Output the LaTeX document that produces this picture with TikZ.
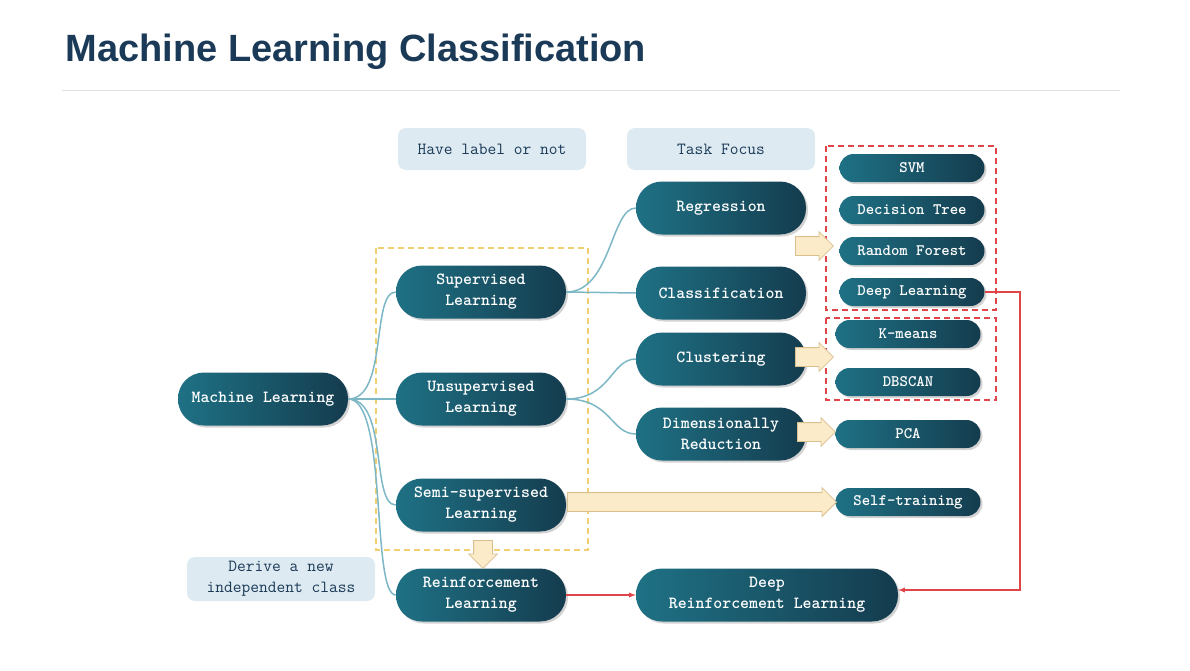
\documentclass[tikz,border=0pt]{standalone}
\usepackage{fontspec}
\newfontfamily\titlefont{Liberation Sans}
\usetikzlibrary{shapes.arrows,shadows}
\definecolor{navy}{HTML}{1B3A57}
\definecolor{tealA}{HTML}{1F7185}
\definecolor{tealB}{HTML}{143C4E}
\definecolor{lbl}{HTML}{DDEAF1}
\definecolor{conn}{HTML}{7DB7C6}
\definecolor{fat}{HTML}{FBEBC8}
\definecolor{fatb}{HTML}{D9C08F}
\definecolor{dred}{HTML}{E0454A}
\definecolor{dyel}{HTML}{F2CF72}
\begin{document}
\begin{tikzpicture}[x=1pt,y=-1pt,
  base/.style={rounded corners=#1, left color=tealA, right color=tealB, text=white,
     font=\ttfamily\bfseries, align=center, inner sep=0pt, drop shadow={opacity=0.35,shadow xshift=2pt,shadow yshift=-2pt}},
  big/.style={base=26pt, minimum width=170pt, minimum height=53pt, font=\ttfamily\bfseries\fontsize{17}{21}\selectfont},
  small/.style={base=14pt, minimum width=145pt, minimum height=28pt, font=\ttfamily\bfseries\fontsize{16}{18}\selectfont},
  lab/.style={fill=lbl, rounded corners=8pt, minimum width=188pt, minimum height=42pt, align=center, text=navy, font=\ttfamily\fontsize{17}{21}\selectfont},
  con/.style={conn, line width=1.5pt},
  fatarrow/.style={single arrow, draw=fatb, fill=fat, line width=0.8pt, single arrow head extend=5pt, inner xsep=0pt, inner ysep=9pt, minimum height=#1, single arrow head indent=0pt},
  red/.style={dred, line width=1.3pt, -{latex}},
  dbox/.style={dash pattern=on 6pt off 4pt, line width=1.2pt},
]
\useasboundingbox (0,0) rectangle (1190,670);
\node[anchor=west, text=navy, font=\titlefont\bfseries\fontsize{38}{44}\selectfont] (title) at (62,52) {Machine Learning Classification};
\draw[gray!25, line width=1pt] (62,90) -- (1120,90);

\node[lab] (l1) at (492,149) {Have label or not};
\node[lab] (l2) at (721,149) {Task Focus};
\node[lab, minimum height=44pt] (l3) at (281,579) {Derive a new\\independent class};

\draw[dyel, dbox] (376,248) rectangle (588,550);
\draw[dred, dbox] (826,146) rectangle (996,310);
\draw[dred, dbox] (826,318) rectangle (996,400);

\node[big] (ml) at (263,399) {Machine Learning};
\node[big] (sup) at (481,292) {Supervised\\Learning};
\node[big] (uns) at (481,399) {Unsupervised\\Learning};
\node[big] (semi) at (481,505) {Semi-supervised\\Learning};
\node[big] (rl) at (481,595) {Reinforcement\\Learning};
\node[big] (reg) at (721,208) {Regression};
\node[big] (cls) at (721,293) {Classification};
\node[big] (clu) at (721,359) {Clustering};
\node[big] (dr) at (721,434) {Dimensionally\\Reduction};
\node[big, minimum width=262pt] (drl) at (767,595) {Deep\\Reinforcement Learning};

\node[small] (svm) at (912,168) {SVM};
\node[small] (dt) at (912,210) {Decision Tree};
\node[small] (rf) at (912,251) {Random Forest};
\node[small] (dl) at (912,292) {Deep Learning};
\node[small] (km) at (908,334) {K-means};
\node[small] (db) at (908,382) {DBSCAN};
\node[small] (pca) at (908,434) {PCA};
\node[small] (st) at (908,502) {Self-training};

\foreach \t in {sup,uns,semi,rl}
  \draw[con] (ml.east) .. controls +(40,0) and +(-25,0) .. (\t.west);
\draw[con] (sup.east) .. controls +(45,0) and +(-25,0) .. (reg.west);
\draw[con] (sup.east) -- (cls.west);
\draw[con] (uns.east) .. controls +(45,0) and +(-25,0) .. (clu.west);
\draw[con] (uns.east) .. controls +(45,0) and +(-25,0) .. (dr.west);

\coordinate (a1) at (795,246);
\node[fatarrow=38pt, anchor=west] (fa1) at (a1) {};
\coordinate (a2) at (795,357);
\node[fatarrow=38pt, anchor=west] (fa2) at (a2) {};
\coordinate (a3) at (797,432);
\node[fatarrow=38pt, anchor=west] (fa3) at (a3) {};
\coordinate (a4) at (567,502);
\node[fatarrow=269pt, anchor=west] (fa4) at (a4) {};
\coordinate (a5) at (483,540);
\node[fatarrow=28pt, anchor=west, rotate=-90] (fa5) at (a5) {};

\draw[red] (rl.east) -- (drl.west);
\coordinate (c1) at (1020,292);
\coordinate (c2) at (1020,590);
\draw[red] (dl.east) -- (c1) -- (c2) -- (drl.east |- c2);
\end{tikzpicture}
\end{document}
